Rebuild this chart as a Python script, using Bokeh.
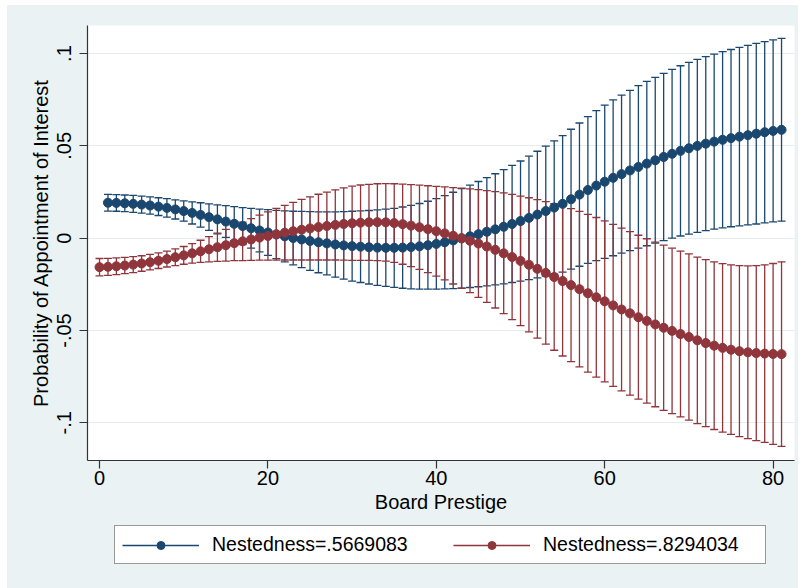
from bokeh.plotting import figure
from bokeh.models import (ColumnDataSource, Whisker, TeeHead, Legend, LegendItem,
                          FixedTicker, Spacer)
from bokeh.layouts import column, row
from bokeh.embed import file_html
from bokeh.resources import INLINE

# Predictive margins of board prestige at two levels of nestedness
blue_label = "Nestedness=.5669083"
red_label = "Nestedness=.8294034"

blue_x = list(range(1, 82))
blue_est = [
    0.0192, 0.0191, 0.0189, 0.0186, 0.0182, 0.0177, 0.0171, 0.0164, 0.0156, 0.0147,
    0.0137, 0.0126, 0.0114, 0.0102, 0.0090, 0.0078, 0.0066, 0.0054, 0.0042, 0.0031,
    0.0020, 0.0010, 0.0001, -0.0007, -0.0015, -0.0022, -0.0028, -0.0034, -0.0039, -0.0043,
    -0.0046, -0.0049, -0.0051, -0.0052, -0.0052, -0.0051, -0.0048, -0.0044, -0.0038, -0.0031,
    -0.0022, -0.0012, -0.0001, 0.0010, 0.0022, 0.0035, 0.0048, 0.0062, 0.0077, 0.0093,
    0.0110, 0.0128, 0.0147, 0.0166, 0.0186, 0.0211, 0.0236, 0.0261, 0.0285, 0.0306,
    0.0327, 0.0347, 0.0367, 0.0386, 0.0404, 0.0422, 0.0440, 0.0457, 0.0473, 0.0487,
    0.0500, 0.0512, 0.0523, 0.0533, 0.0542, 0.0550, 0.0558, 0.0566, 0.0574, 0.0581,
    0.0587,
]
blue_ci_half = [
    0.0045, 0.0045, 0.0045, 0.0046, 0.0046, 0.0047, 0.0048, 0.0050, 0.0052, 0.0055,
    0.0060, 0.0066, 0.0072, 0.0079, 0.0086, 0.0093, 0.0100, 0.0108, 0.0116, 0.0124,
    0.0131, 0.0138, 0.0145, 0.0152, 0.0159, 0.0165, 0.0171, 0.0177, 0.0183, 0.0189,
    0.0194, 0.0199, 0.0204, 0.0209, 0.0214, 0.0220, 0.0226, 0.0232, 0.0238, 0.0245,
    0.0253, 0.0261, 0.0269, 0.0277, 0.0285, 0.0293, 0.0301, 0.0309, 0.0317, 0.0325,
    0.0334, 0.0343, 0.0352, 0.0361, 0.0370, 0.0379, 0.0388, 0.0397, 0.0406, 0.0415,
    0.0422, 0.0428, 0.0434, 0.0440, 0.0445, 0.0449, 0.0453, 0.0457, 0.0461, 0.0465,
    0.0468, 0.0471, 0.0474, 0.0477, 0.0480, 0.0483, 0.0486, 0.0489, 0.0491, 0.0493,
    0.0495,
]

red_x = list(range(0, 82))
red_est = [
    -0.0157, -0.0155, -0.0152, -0.0148, -0.0143, -0.0137, -0.0130, -0.0122, -0.0113, -0.0103,
    -0.0093, -0.0082, -0.0071, -0.0060, -0.0049, -0.0038, -0.0027, -0.0017, -0.0007, 0.0003,
    0.0012, 0.0021, 0.0030, 0.0038, 0.0046, 0.0053, 0.0060, 0.0066, 0.0072, 0.0077,
    0.0081, 0.0084, 0.0086, 0.0087, 0.0086, 0.0082, 0.0076, 0.0068, 0.0059, 0.0049,
    0.0038, 0.0026, 0.0013, 0.0000, -0.0014, -0.0029, -0.0045, -0.0063, -0.0082, -0.0102,
    -0.0123, -0.0144, -0.0166, -0.0188, -0.0210, -0.0232, -0.0254, -0.0276, -0.0298, -0.0320,
    -0.0342, -0.0364, -0.0386, -0.0407, -0.0428, -0.0448, -0.0467, -0.0485, -0.0502, -0.0519,
    -0.0535, -0.0553, -0.0568, -0.0582, -0.0594, -0.0604, -0.0612, -0.0618, -0.0622, -0.0625,
    -0.0627, -0.0628,
]
red_ci_half = [
    0.0047, 0.0046, 0.0045, 0.0044, 0.0043, 0.0042, 0.0042, 0.0042, 0.0043, 0.0045,
    0.0048, 0.0053, 0.0060, 0.0068, 0.0077, 0.0086, 0.0095, 0.0104, 0.0113, 0.0122,
    0.0131, 0.0140, 0.0148, 0.0156, 0.0164, 0.0171, 0.0178, 0.0184, 0.0190, 0.0196,
    0.0201, 0.0204, 0.0206, 0.0208, 0.0210, 0.0213, 0.0217, 0.0222, 0.0228, 0.0235,
    0.0243, 0.0252, 0.0261, 0.0271, 0.0281, 0.0292, 0.0303, 0.0315, 0.0327, 0.0339,
    0.0351, 0.0363, 0.0375, 0.0386, 0.0397, 0.0406, 0.0414, 0.0421, 0.0427, 0.0432,
    0.0436, 0.0439, 0.0441, 0.0443, 0.0444, 0.0445, 0.0446, 0.0447, 0.0448, 0.0449,
    0.0450, 0.0451, 0.0452, 0.0454, 0.0456, 0.0459, 0.0463, 0.0468, 0.0474, 0.0481,
    0.0490, 0.0500,
]

x_ticks = [0, 20, 40, 60, 80]
y_ticks = [-0.1, -0.05, 0, 0.05, 0.1]
y_tick_labels = {-0.1: "-.1", -0.05: "-.05", 0: "0", 0.05: ".05", 0.1: ".1"}

NAVY = "#1A476F"
MAROON = "#90353B"
PANEL = "#EAF2F3"
FONT = "Liberation Sans"

# ---- main panel -------------------------------------------------------------
p = figure(frame_width=707, frame_height=435, output_backend="svg", toolbar_location=None,
           x_range=(-1.43, 82.54), y_range=(-0.1204, 0.1152),
           min_border_left=80, min_border_right=4, min_border_top=20,
           min_border_bottom=62)
p.background_fill_color = "white"
p.border_fill_color = PANEL
p.outline_line_color = None

p.xgrid.grid_line_color = None
p.ygrid.grid_line_color = "#E4ECEE"
p.ygrid.grid_line_width = 1

for ax in (p.xaxis[0], p.yaxis[0]):
    ax.axis_line_color = "#333333"
    ax.axis_line_width = 1.2
    ax.major_tick_line_color = "#333333"
    ax.major_tick_line_width = 1.2
    ax.major_tick_in = 0
    ax.major_tick_out = 8
    ax.minor_tick_line_color = None
    ax.major_label_text_font = FONT
    ax.major_label_text_font_size = "20px"
    ax.major_label_text_color = "black"
    ax.axis_label_text_font = FONT
    ax.axis_label_text_font_size = "20px"
    ax.axis_label_text_font_style = "normal"
    ax.axis_label_text_color = "black"

p.xaxis.ticker = FixedTicker(ticks=x_ticks)
p.yaxis.ticker = FixedTicker(ticks=y_ticks)
p.yaxis.major_label_overrides = y_tick_labels
p.yaxis.major_label_orientation = "vertical"
p.xaxis.major_label_standoff = 2
p.yaxis.major_label_standoff = 8
p.xaxis.axis_label_standoff = 3
p.yaxis.axis_label_standoff = 3
p.xaxis.axis_label = "Board Prestige"
p.yaxis.axis_label = "Probability of Appointment of Interest"


def add_series(xs, est, half, color):
    lo = [round(e - h, 5) for e, h in zip(est, half)]
    hi = [round(e + h, 5) for e, h in zip(est, half)]
    src = ColumnDataSource(dict(x=xs, est=est, lo=lo, hi=hi))
    whisk = Whisker(source=src, base="x", lower="lo", upper="hi",
                    line_color=color, line_width=1.3,
                    lower_head=TeeHead(size=8, line_color=color, line_width=1.3),
                    upper_head=TeeHead(size=8, line_color=color, line_width=1.3))
    p.add_layout(whisk)
    return src


blue_src = add_series(blue_x, blue_est, blue_ci_half, NAVY)
red_src = add_series(red_x, red_est, red_ci_half, MAROON)

p.line("x", "est", source=blue_src, line_color=NAVY, line_width=1.5)
p.scatter("x", "est", source=blue_src, size=9, fill_color=NAVY, line_color=NAVY)
p.line("x", "est", source=red_src, line_color=MAROON, line_width=1.5)
p.scatter("x", "est", source=red_src, size=9, fill_color=MAROON, line_color=MAROON)

# ---- legend strip under the axis title ---------------------------------------
# The strip views a range that none of the series reach, so only the legend keys show.
leg = figure(width=791, height=66, output_backend="svg", toolbar_location=None,
             x_range=(-30, -20), y_range=(0, 1),
             x_axis_location=None, y_axis_location=None,
             min_border=0)
leg.background_fill_color = PANEL
leg.border_fill_color = PANEL
leg.outline_line_color = None
leg.grid.visible = False

kb_line = leg.line("x", "est", source=blue_src, line_color=NAVY, line_width=1.5)
kb_pts = leg.scatter("x", "est", source=blue_src, size=9, fill_color=NAVY, line_color=NAVY)
kr_line = leg.line("x", "est", source=red_src, line_color=MAROON, line_width=1.5)
kr_pts = leg.scatter("x", "est", source=red_src, size=9, fill_color=MAROON, line_color=MAROON)

legend = Legend(items=[LegendItem(label=blue_label, renderers=[kb_line, kb_pts]),
                       LegendItem(label=red_label, renderers=[kr_line, kr_pts])],
                orientation="horizontal", location=(27, 24),
                padding=7, spacing=26, margin=0,
                glyph_width=77, glyph_height=20, label_standoff=13, label_width=215,
                label_text_font=FONT, label_text_font_size="19.5px",
                label_text_color="black",
                border_line_color="#333333", border_line_width=1,
                background_fill_color="white", background_fill_alpha=1.0)
leg.add_layout(legend, "center")

chart = column(p, leg, styles={"background-color": PANEL})
page = column(Spacer(height=5), row(Spacer(width=7), chart))

open("out.html", "w").write(file_html(page, INLINE))
